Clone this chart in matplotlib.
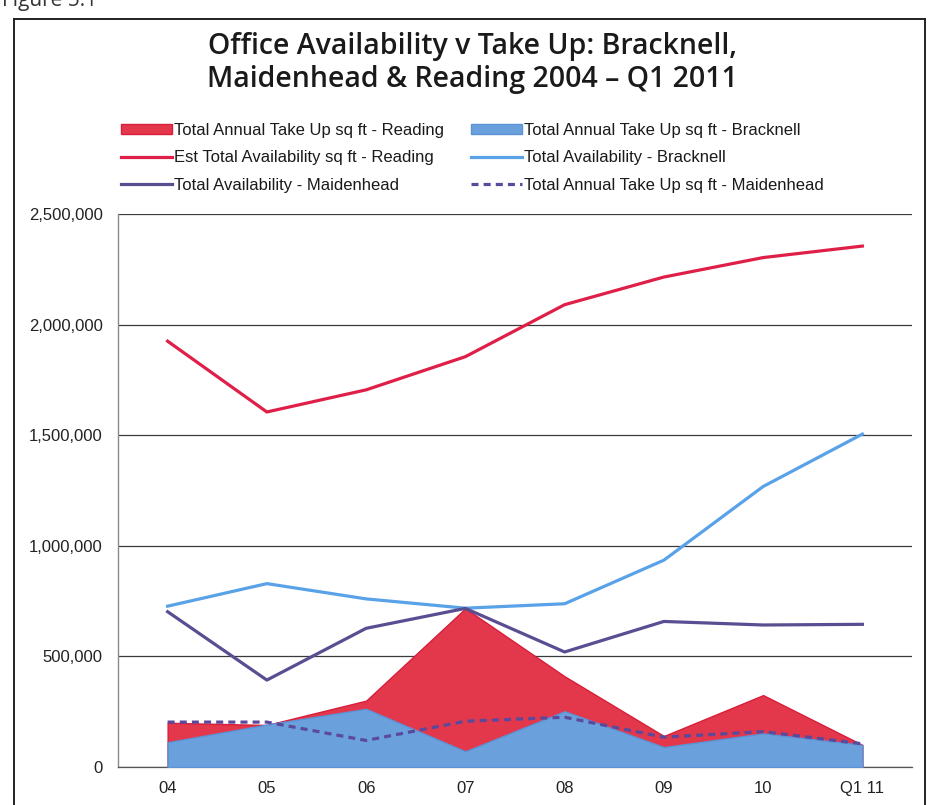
import matplotlib
matplotlib.use("Agg")
import matplotlib.pyplot as plt
from matplotlib.lines import Line2D
from matplotlib.ticker import FuncFormatter, MultipleLocator

# Period labels
periods = ["04", "05", "06", "07", "08", "09", "10", "Q1 11"]

# Take up (sq ft)
takeup_reading = [200000, 190000, 300000, 717000, 410000, 140000, 325000, 100000]
takeup_bracknell = [112000, 192000, 263000, 71000, 252000, 90000, 152000, 100000]
takeup_maidenhead = [203000, 203000, 120000, 207000, 225000, 135000, 160000, 105000]

# Availability (sq ft)
avail_reading = [1925000, 1605000, 1705000, 1855000, 2090000, 2215000, 2303000, 2355000]
avail_bracknell = [727000, 829000, 760000, 718000, 738000, 935000, 1268000, 1505000]
avail_maidenhead = [702000, 393000, 627000, 717000, 520000, 658000, 642000, 645000]

RED_FILL = "#e3374c"
RED_LINE = "#e01f48"
BLUE_FILL = "#6aa0dc"
BLUE_LINE = "#5aa2e8"
PURPLE = "#5a4e92"
PURPLE_DASH = "#5b4a9c"

plt.rcParams["font.family"] = ["Liberation Sans", "DejaVu Sans"]

W, H = 932, 805
fig = plt.figure(figsize=(W / 100, H / 100), dpi=100)
fig.patch.set_facecolor("white")

ax = fig.add_axes([118 / W, 1 - 767 / H, (912 - 118) / W, (767 - 214) / H])
x = list(range(len(periods)))

ax.fill_between(x, 0, takeup_reading, color=RED_FILL, edgecolor="#d81e3a",
                linewidth=1.0, zorder=2, label="Total Annual Take Up sq ft - Reading")
ax.fill_between(x, 0, takeup_bracknell, color=BLUE_FILL, edgecolor="#5b93d6",
                linewidth=1.0, zorder=3, label="Total Annual Take Up sq ft - Bracknell")
ax.plot(x, avail_reading, color=RED_LINE, lw=2.3, zorder=4,
        label="Est Total Availability sq ft - Reading")
ax.plot(x, avail_bracknell, color=BLUE_LINE, lw=2.3, zorder=4,
        label="Total Availability - Bracknell")
ax.plot(x, avail_maidenhead, color=PURPLE, lw=2.3, zorder=4,
        label="Total Availability - Maidenhead")
ax.plot(x, takeup_maidenhead, color=PURPLE_DASH, lw=2.3, ls=(0, (2.2, 1.6)),
        zorder=5, label="Total Annual Take Up sq ft - Maidenhead")

ax.set_xlim(-0.5, len(periods) - 0.5)
ax.set_ylim(0, 2500000)
ax.yaxis.set_major_locator(MultipleLocator(500000))
ax.yaxis.set_major_formatter(FuncFormatter(lambda v, p: f"{int(v):,}"))
ax.set_xticks(x)
ax.set_xticklabels(periods)
ax.tick_params(axis="both", length=0, labelsize=12, colors="#222222")
ax.tick_params(axis="y", pad=11)
ax.tick_params(axis="x", pad=10)
ax.grid(axis="y", color="#3a3a3a", lw=0.9, zorder=1)
ax.set_axisbelow(True)
for s in ["top", "right"]:
    ax.spines[s].set_visible(False)
ax.spines["left"].set_color("#8a8a8a")
ax.spines["left"].set_linewidth(1.0)
ax.spines["bottom"].set_color("#555555")
ax.spines["bottom"].set_linewidth(0.9)

# Legend in two columns, reading order left column first
h, l = ax.get_legend_handles_labels()
order = [0, 2, 4, 1, 3, 5]
leg = fig.legend([h[i] for i in order], [l[i] for i in order],
                 loc="upper left", bbox_to_anchor=(114 / W, 1 - 116 / H),
                 ncol=2, frameon=False, fontsize=12, handlelength=3.1,
                 handleheight=0.5, handletextpad=0.1, columnspacing=1.6,
                 labelspacing=0.75, borderaxespad=0)
for t in leg.get_texts():
    t.set_color("#1a1a1a")

# Title
fig.text(472 / W, 1 - 63 / H,
         "Office Availability v Take Up: Bracknell,\nMaidenhead & Reading 2004 \u2013 Q1 2011",
         ha="center", va="center", fontsize=20.5, fontweight="semibold",
         family="Open Sans", color="#1a1a1a", linespacing=1.22)

# Caption above the frame
fig.text(2 / W, 1 - 6 / H, "Figure 5.1", ha="left", va="baseline",
         fontsize=15, family="Open Sans", color="#333333")

# Frame around the chart
fx0, fx1, fy0 = 14 / W, 925 / W, 1 - 19 / H
fig.add_artist(Line2D([fx0, fx0], [0, fy0], color="#222222", lw=1.4))
fig.add_artist(Line2D([fx0, fx1], [fy0, fy0], color="#222222", lw=1.4))
fig.add_artist(Line2D([fx1, fx1], [0, fy0], color="#222222", lw=1.4))

fig.savefig("out.png", dpi=100, facecolor="white")
